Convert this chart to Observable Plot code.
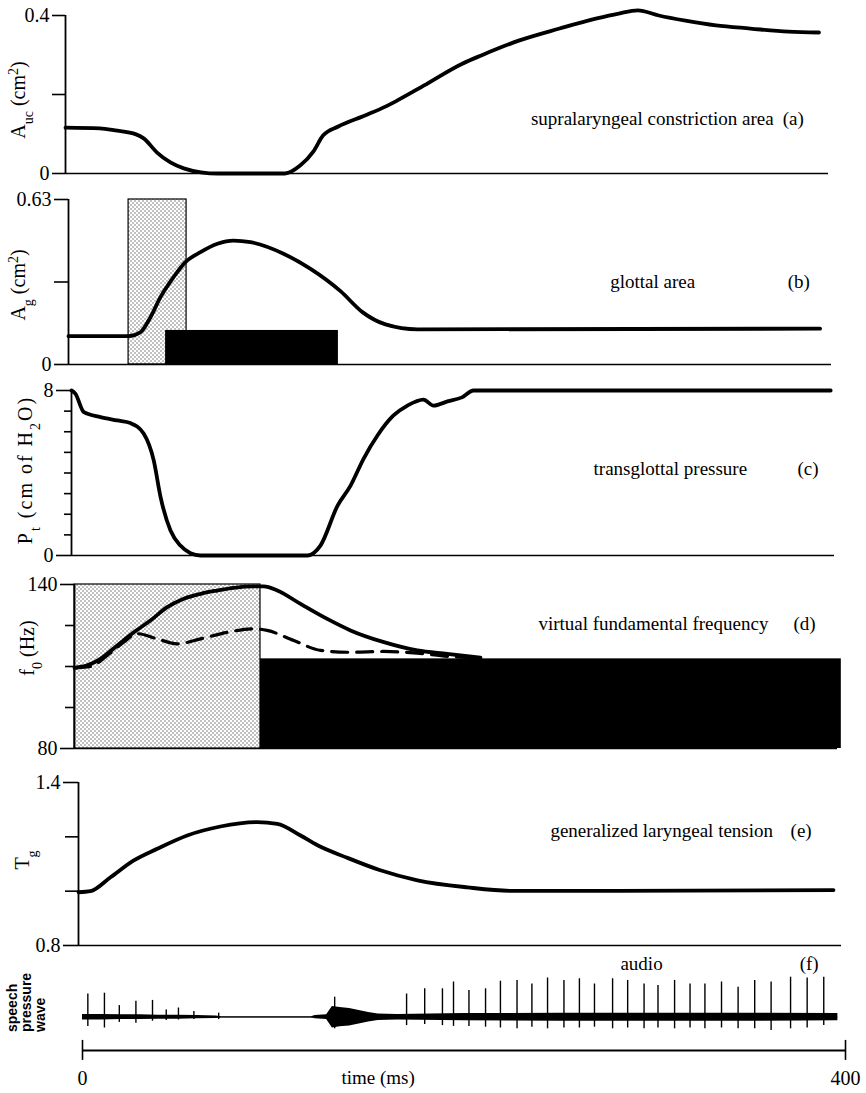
<!DOCTYPE html>
<html><head><meta charset="utf-8">
<script src="https://cdn.jsdelivr.net/npm/d3@7"></script>
<script src="https://cdn.jsdelivr.net/npm/@observablehq/plot@0.6"></script>
<style>
body{margin:0;background:#fff;}
#chart{width:866px;}
#chart svg{display:block;}
</style></head><body>
<svg width="0" height="0" style="position:absolute">
<defs><pattern id="dots" width="4" height="4" patternUnits="userSpaceOnUse">
<rect width="4" height="4" fill="#fff"/>
<circle cx="1" cy="1" r="0.7" fill="#555"/>
<circle cx="3" cy="3" r="0.7" fill="#555"/>
</pattern></defs></svg>
<div id="chart"></div>
<script>
// ---------- (a) supralaryngeal constriction area (cm2) ----------
const aucTime = [0,18,26,37,41,48,55,62,71,80,115,123,130,135,143,157,168,174,188,208,218,238,259,278,290,300,311,325,341,359,379,395];
const aucArea = [0.116,0.114,0.109,0.099,0.089,0.053,0.028,0.013,0.003,0,0,0.020,0.056,0.096,0.119,0.147,0.170,0.185,0.223,0.278,0.299,0.337,0.367,0.392,0.405,0.413,0.400,0.387,0.375,0.367,0.359,0.357];
const aucTicks = [0,0.2,0.4];

// ---------- (b) glottal area (cm2) ----------
const agTime = [0,31.5,37.7,43,48.2,55,61.3,69.2,78.1,86.5,95.4,112.7,126.9,142.6,154.1,166.2,183,394];
const agArea = [0.108,0.108,0.123,0.181,0.257,0.333,0.391,0.429,0.461,0.473,0.467,0.423,0.365,0.280,0.200,0.153,0.134,0.137];
const agGestureSpan = [31.5,61.9];   // stippled bar, 0 .. 0.63
const agGestureTop = 0.63;
const agVoicingSpan = [50.9,141.5];  // black bar
const agVoicingTop = 0.13;
const agTicks = [0,0.315,0.63];

// ---------- (c) transglottal pressure (cm H2O) ----------
const ptTime = [0,2,6.5,15.2,24,30.9,37.9,43.1,46.7,51.9,57.1,62.4,67.6,123.7,130.5,139.5,146.3,153.1,160.4,168.8,176.1,184.5,189.8,197.1,205,210.7,398];
const ptPress = [8,7.85,6.95,6.71,6.55,6.42,5.9,4.61,2.83,1.21,0.48,0.11,0,0,0.48,2.42,3.39,4.69,5.82,6.79,7.27,7.56,7.27,7.47,7.68,8,8];
const ptTicks = [0,1,2,3,4,5,6,7,8];

// ---------- (d) virtual fundamental frequency (Hz) ----------
const f0Time = [0,6.7,13.6,22.4,31.1,39.8,48.6,57.3,66.1,74.8,83.5,94,99.2,106.3,118.5,132.5,144.7,162.2,179.7,195.4,212.8];
const f0Solid = [109.5,110.4,112.8,117.7,122.5,126.8,131.7,134.8,136.6,137.8,138.8,139.3,139.3,137.8,132.9,127.4,123.2,118.9,115.9,114.6,113.2];
const f0DashTime = [0,8.4,17.1,25.8,32.9,43.4,53.8,66.1,80.1,94,101,115,129,144.7,162.2,179.7,195.4,210.2];
const f0Dash = [109.5,110,114,118.9,122,120.1,118.3,120.1,122.5,123.8,123.2,119.5,115.9,115.2,115.5,114.9,113.7,113.2];
const f0GestureSpan = [0,97.5];   // stippled bar 80..140
const f0GestureTop = 140;
const f0VoicingSpan = [97.5,402]; // black bar
const f0VoicingTop = 112.8;
const f0Ticks = [80,95,110,125,140];

// ---------- (e) generalized laryngeal tension ----------
const tgTime = [0,6.3,16.8,29,41.3,57,74.4,93.7,104.2,116.4,125.3,140.5,157.8,177.7,203.9,227.5,282.6,395.8];
const tgVal = [0.996,1.0,1.051,1.113,1.156,1.205,1.238,1.254,1.248,1.205,1.169,1.124,1.078,1.040,1.014,1.001,1.001,1.004];
const tgTicks = [0.8,1.0,1.2,1.4];

// ---------- (f) audio: speech pressure wave ----------
const pulseTime = [2.8,11.5,19.3,28.0,36.7,43.9,50.3,58.4,71.4,132.2,169.9,179.4,188.7,194.5,202.6,211.3,219.1,227.8,235.6,243.8,252.4,260.5,268.4,277.9,285.8,294.4,301.7,310.4,318.5,326.3,335.0,343.7,352.4,361.0,371.2,379.9,388.6];
const pulseHigh = [0.58,0.60,0.29,0.40,0.42,0.18,0.23,0.14,0.10,0.50,0.58,0.71,0.71,0.88,0.67,0.71,0.90,0.92,0.83,0.98,0.92,0.96,0.83,0.96,0.92,0.83,0.79,0.92,0.83,0.83,0.88,0.75,0.92,0.88,1.00,0.98,1.00];
const pulseLow = [-0.23,-0.27,-0.13,-0.15,-0.10,-0.08,-0.07,-0.06,-0.06,-0.29,-0.21,-0.18,-0.21,-0.23,-0.23,-0.25,-0.27,-0.29,-0.25,-0.29,-0.27,-0.27,-0.25,-0.29,-0.27,-0.29,-0.27,-0.29,-0.27,-0.29,-0.27,-0.29,-0.29,-0.33,-0.29,-0.27,-0.21];
const noiseTime = [0,10,20,30,40,50,60,70,73,120,122,128,131,135,140,145,150,155,165,200,250,300,350,396];
const noiseAmp = [0.07,0.07,0.06,0.06,0.05,0.05,0.04,0.03,0.01,0.01,0.04,0.06,0.27,0.24,0.22,0.17,0.12,0.08,0.07,0.09,0.1,0.1,0.1,0.09];
const timeTicks = [0,400];

// ---------- helpers ----------
const W = 866, SPAN = 763;
const serif = "'Liberation Serif','Times New Roman','DejaVu Serif',serif";
const LABEL = 19, TICK = 20, YLAB = 20;
const zipTV = (ts, vs) => ts.map((t, i) => ({t, v: vs[i]}));
const base = (ml, h, mt, mb, ydom) => ({
  width: W, height: h, marginLeft: ml, marginRight: W - ml - SPAN,
  marginTop: mt, marginBottom: mb,
  x: {domain: [0, 400], axis: null},
  y: {domain: ydom},
  style: {fontFamily: serif, fontSize: TICK + "px", background: "white", color: "black", overflow: "visible"}
});
const endAxis = (ticks, size, fmt) => Plot.axisY({ticks, tickSize: size, tickPadding: 3, tickFormat: fmt, label: null, strokeWidth: 1.6, fontSize: TICK});
const midAxis = (ticks, size) => Plot.axisY({ticks, tickSize: size, tickFormat: () => "", label: null, strokeWidth: 1.6});
function richLabel(svg, x, y, parts, size = YLAB, family = serif, weight = "normal", anchor = "middle", spacing = 0) {
  const t = d3.select(svg).append("text")
    .attr("transform", `translate(${x},${y}) rotate(-90)`)
    .attr("text-anchor", anchor).attr("font-family", family)
    .attr("font-size", size).attr("font-weight", weight).attr("fill", "black")
    .attr("letter-spacing", spacing);
  for (const [s, kind] of parts) {
    const ts = t.append("tspan").text(s);
    if (kind === "sub") ts.attr("baseline-shift", "sub").attr("font-size", size * 0.7);
    if (kind === "sup") ts.attr("baseline-shift", "super").attr("font-size", size * 0.7);
  }
}
const chart = document.getElementById("chart");
const curveW = 3.8;

// (a)
const pa = Plot.plot({
  ...base(65, 186, 15, 13, [0, 0.4]),
  marks: [
    endAxis([0, 0.4], 13, d => d === 0 ? "0" : "0.4"),
    midAxis([0.2], 13),
    Plot.ruleX([0], {strokeWidth: 1.8}),
    Plot.ruleY([0], {strokeWidth: 1.5}),
    Plot.line(zipTV(aucTime, aucArea), {x: "t", y: "v", strokeWidth: curveW, curve: "monotone-x", strokeLinecap: "round"}),
    Plot.text(["supralaryngeal constriction area"], {x: 244, y: 0.137, textAnchor: "start", fontSize: LABEL}),
    Plot.text(["(a)"], {x: 376, y: 0.137, textAnchor: "start", fontSize: LABEL})
  ]
});
richLabel(pa, 25, 100, [["A",""],["uc","sub"],[" (cm",""],["2","sup"],[")",""]]);
chart.append(pa);

// (b)
const pb = Plot.plot({
  ...base(68, 190, 13, 12, [0, 0.63]),
  marks: [
    Plot.rect([agGestureSpan], {x1: d => d[0], x2: d => d[1], y1: 0, y2: agGestureTop, fill: "url(#dots)", stroke: "black", strokeWidth: 1.2}),
    Plot.rect([agVoicingSpan], {x1: d => d[0], x2: d => d[1], y1: 0, y2: agVoicingTop, fill: "black"}),
    endAxis([0, 0.63], 14, d => d === 0 ? "0" : "0.63"),
    midAxis([0.315], 14),
    Plot.ruleX([0], {strokeWidth: 1.8}),
    Plot.ruleY([0], {strokeWidth: 1.5}),
    Plot.line(zipTV(agTime, agArea), {x: "t", y: "v", strokeWidth: curveW, curve: "monotone-x", strokeLinecap: "round"}),
    Plot.text(["glottal area"], {x: 284, y: 0.317, textAnchor: "start", fontSize: LABEL}),
    Plot.text(["(b)"], {x: 377, y: 0.317, textAnchor: "start", fontSize: LABEL})
  ]
});
richLabel(pb, 25, 99, [["A",""],["g","sub"],[" (cm",""],["2","sup"],[")",""]]);
chart.append(pb);

// (c)
const pc = Plot.plot({
  ...base(71, 192, 14, 13, [0, 8]),
  marks: [
    endAxis([0, 8], 15, d => String(d)),
    midAxis(ptTicks.slice(1, -1), 7),
    Plot.ruleX([0], {strokeWidth: 1.8}),
    Plot.ruleY([0], {strokeWidth: 1.5}),
    Plot.line(zipTV(ptTime, ptPress), {x: "t", y: "v", strokeWidth: curveW, curve: "monotone-x", strokeLinecap: "round"}),
    Plot.text(["transglottal pressure"], {x: 273.7, y: 4.22, textAnchor: "start", fontSize: LABEL}),
    Plot.text(["(c)"], {x: 380.6, y: 4.22, textAnchor: "start", fontSize: LABEL})
  ]
});
richLabel(pc, 32, 94, [["P",""],["t","sub"],[" (cm of H",""],["2","sub"],["O)",""]], YLAB, serif, "normal", "middle", 2);
chart.append(pc);

// (d)
const pd = Plot.plot({
  ...base(74, 194, 16, 14, [80, 140]),
  marks: [
    Plot.ruleY([80], {strokeWidth: 1.5}),
    Plot.rect([f0GestureSpan], {x1: d => d[0], x2: d => d[1], y1: 80, y2: f0GestureTop, fill: "url(#dots)", stroke: "black", strokeWidth: 1.2}),
    Plot.rect([f0VoicingSpan], {x1: d => d[0], x2: d => d[1], y1: 80, y2: f0VoicingTop, fill: "black"}),
    endAxis([80, 140], 14, d => String(d)),
    midAxis(f0Ticks.slice(1, -1), 9),
    Plot.ruleX([0], {strokeWidth: 1.8}),
    Plot.line(zipTV(f0DashTime, f0Dash), {x: "t", y: "v", strokeWidth: 3.2, strokeDasharray: "16,9", curve: "monotone-x"}),
    Plot.line(zipTV(f0Time, f0Solid), {x: "t", y: "v", strokeWidth: curveW, curve: "monotone-x", strokeLinecap: "round"}),
    Plot.text(["virtual fundamental frequency"], {x: 243.2, y: 125.7, textAnchor: "start", fontSize: LABEL}),
    Plot.text(["(d)"], {x: 376.9, y: 125.7, textAnchor: "start", fontSize: LABEL})
  ]
});
richLabel(pd, 34, 80, [["f",""],["0","sub"],[" (Hz)",""]]);
chart.append(pd);

// (e)
const pe = Plot.plot({
  ...base(78, 193, 20, 10, [0.8, 1.4]),
  marks: [
    endAxis([0.8, 1.4], 15, d => d.toFixed(1)),
    midAxis([1.0, 1.2], 13),
    Plot.ruleX([0], {strokeWidth: 1.8}),
    Plot.ruleY([0.8], {strokeWidth: 1.5}),
    Plot.line(zipTV(tgTime, tgVal), {x: "t", y: "v", strokeWidth: curveW, curve: "monotone-x", strokeLinecap: "round"}),
    Plot.text(["generalized laryngeal tension"], {x: 247.4, y: 1.223, textAnchor: "start", fontSize: LABEL}),
    Plot.text(["(e)"], {x: 373.3, y: 1.223, textAnchor: "start", fontSize: LABEL})
  ]
});
richLabel(pe, 29, 98, [["T",""],["g","sub"]]);
chart.append(pe);

// (f)
const pulses = pulseTime.map((t, i) => ({t, hi: pulseHigh[i], lo: pulseLow[i]}));
const noise = zipTV(noiseTime, noiseAmp);
const pf = Plot.plot({
  width: W, height: 138, marginLeft: 82, marginRight: W - 82 - SPAN, marginTop: 20, marginBottom: 43,
  x: {domain: [0, 400], axis: null},
  y: {domain: [-1, 1], range: [101.7, 21.7], axis: null},
  style: {fontFamily: serif, fontSize: TICK + "px", background: "white", color: "black", overflow: "visible"},
  marks: [
    Plot.ruleY([0], {x1: noiseTime[0], x2: noiseTime[noiseTime.length - 1], strokeWidth: 1}),
    Plot.areaY(noise, {x: "t", y1: d => -d.v, y2: d => d.v, fill: "black"}),
    Plot.ruleX(pulses, {x: "t", y1: "lo", y2: "hi", strokeWidth: 1.4}),
    Plot.ruleY([-0.8325], {strokeWidth: 1.8}),
    Plot.ruleX(timeTicks, {y1: -0.58, y2: -1.08, strokeWidth: 1.6}),
    Plot.text(timeTicks, {x: d => d, y: -1.53, text: d => String(d), fontSize: TICK}),
    Plot.text(["time (ms)"], {x: 155, y: -1.53, fontSize: LABEL}),
    Plot.text(["audio"], {x: 282, y: 1.34, textAnchor: "start", fontSize: LABEL}),
    Plot.text(["(f)"], {x: 376, y: 1.34, textAnchor: "start", fontSize: LABEL})
  ]
});
const sans = "'Liberation Sans',Arial,'DejaVu Sans',sans-serif";
richLabel(pf, 17, 77, [["speech",""]], 14, sans, "bold", "start");
richLabel(pf, 31, 77, [["pressure",""]], 14, sans, "bold", "start");
richLabel(pf, 45, 77, [["wave",""]], 14, sans, "bold", "start");
chart.append(pf);
</script>
</body></html>
